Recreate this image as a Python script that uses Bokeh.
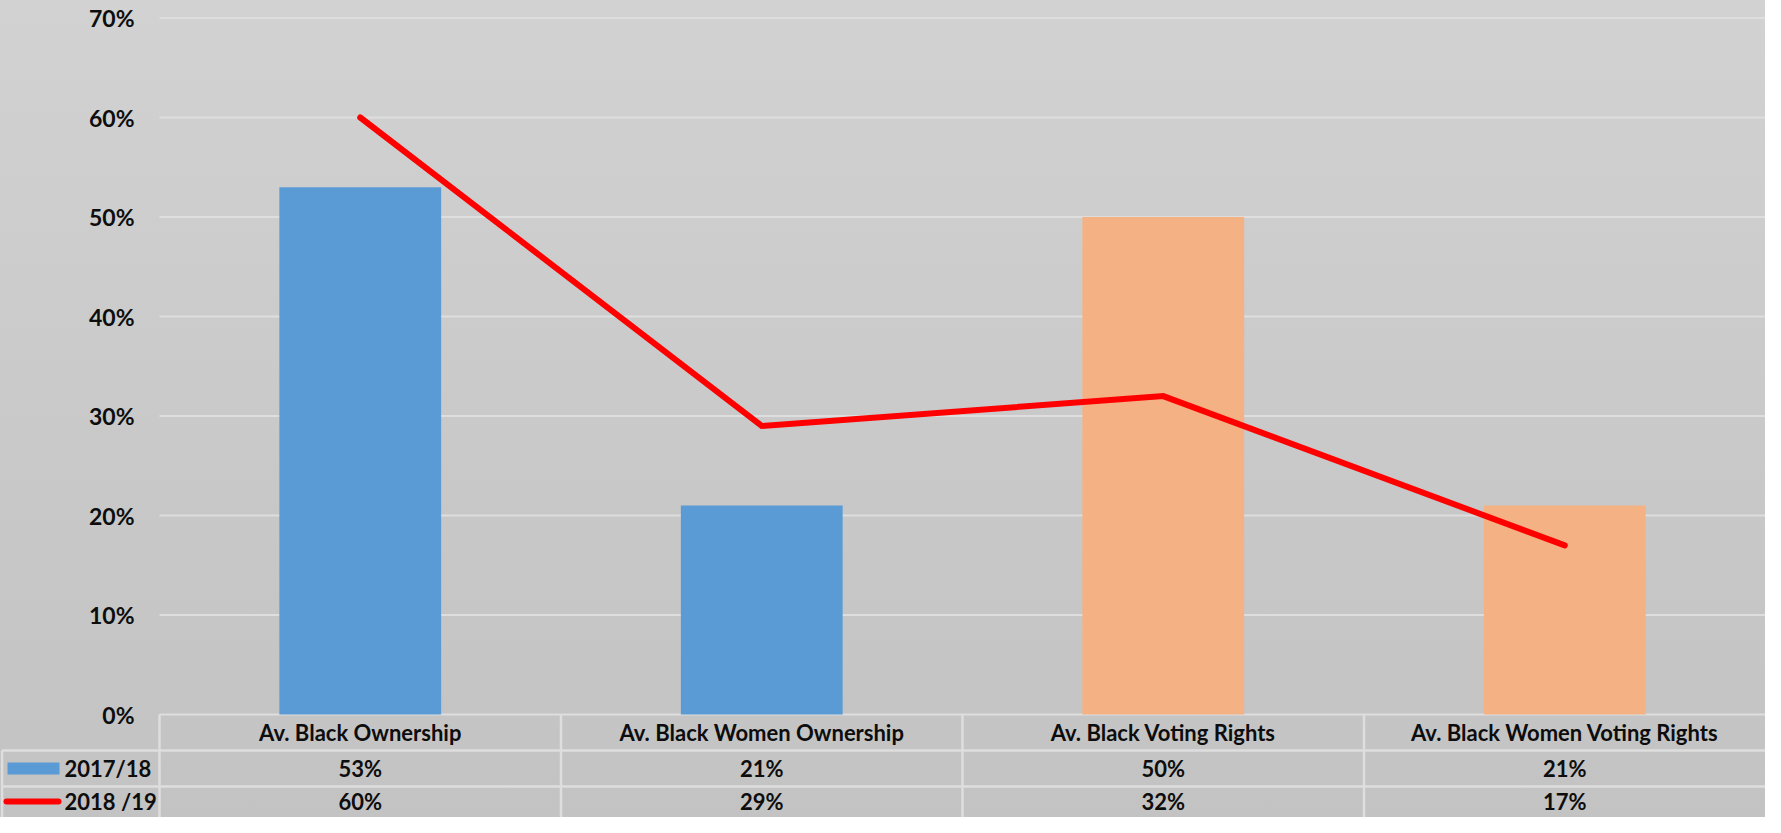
from bokeh.plotting import figure
from bokeh.models import Range1d
from bokeh.embed import file_html
from bokeh.resources import INLINE
from bokeh.core.properties import value

# ---------------- data ----------------
categories = ["Av. Black Ownership", "Av. Black Women Ownership",
              "Av. Black Voting Rights", "Av. Black Women Voting Rights"]
series_names = ["2017/18", "2018 /19"]
values_2017_18 = [53, 21, 50, 21]
values_2018_19 = [60, 29, 32, 17]
bar_colors = ["#5B9BD5", "#5B9BD5", "#F4B183", "#F4B183"]
y_ticks = [0, 10, 20, 30, 40, 50, 60, 70]
y_tick_labels = ["0%", "10%", "20%", "30%", "40%", "50%", "60%", "70%"]

# ---------------- layout helpers ----------------
W, H = 1765, 817          # page offset of 8px on each side
COL_PX = 401.5            # pixels per category column
Y_PX = 9.95               # pixels per percentage point
ORIGIN_X = 167            # page x of the plot area's left edge
ORIGIN_Y = 722            # page y of the 0% baseline


def ux(px):
    return (px - ORIGIN_X) / COL_PX


def uy(py):
    return (ORIGIN_Y - py) / Y_PX


x0, x1 = ux(8), ux(8 + W)
y0, y1 = uy(8 + H), uy(8)

FONT = value("Lato")
TXT = "#0d0d0d"
FS = "22px"
LINE_C = "#dedede"

p = figure(width=W, height=H, output_backend="svg", toolbar_location=None,
           x_range=Range1d(x0, x1), y_range=Range1d(y0, y1),
           x_axis_type=None, y_axis_type=None, min_border=0,
           outline_line_color=None,
           background_fill_color=None, border_fill_color=None,
           styles={"background": "linear-gradient(to bottom, #d2d2d2 0%, #c8c8c8 60%, #c3c3c3 100%)"})
p.grid.visible = False

n = len(categories)
centers = [i + 0.5 for i in range(n)]

# gridlines (from tick values)
p.segment(x0=[0] * len(y_ticks), x1=[n] * len(y_ticks), y0=y_ticks, y1=y_ticks,
          line_color=LINE_C, line_width=2)

# y tick labels
p.text(x=[ux(142)] * len(y_ticks), y=y_ticks, text=y_tick_labels,
       text_font=FONT, text_font_style="bold", text_font_size="23px",
       text_color=TXT, text_align="right", text_baseline="middle")

# bars
p.vbar(x=centers, width=0.403, bottom=0, top=values_2017_18,
       fill_color=bar_colors, line_color=None)

# line
p.line(x=centers, y=values_2018_19, line_color="#FF0000", line_width=6,
       line_cap="round", line_join="miter")

# ---------------- data table ----------------
row1_bot = uy(758)
row2_bot = uy(794)
row_centers = [uy(740), uy(776), uy(809)]
left_edge = ux(9.5)

# horizontal table lines
p.segment(x0=[left_edge, left_edge], x1=[n, n], y0=[row1_bot, row2_bot],
          y1=[row1_bot, row2_bot], line_color=LINE_C, line_width=2.5)
# vertical table lines
p.segment(x0=list(range(n)), x1=list(range(n)), y0=[0] * n, y1=[y0] * n,
          line_color=LINE_C, line_width=2.5)
p.segment(x0=[left_edge], x1=[left_edge], y0=[row1_bot], y1=[y0],
          line_color=LINE_C, line_width=2.5)

# category row
p.text(x=centers, y=[row_centers[0]] * n, text=categories,
       text_font=FONT, text_font_style="bold", text_font_size=FS,
       text_color=TXT, text_align="center", text_baseline="middle")
# value rows
p.text(x=centers, y=[row_centers[1]] * n, text=[f"{v}%" for v in values_2017_18],
       text_font=FONT, text_font_style="bold", text_font_size=FS,
       text_color=TXT, text_align="center", text_baseline="middle")
p.text(x=centers, y=[row_centers[2]] * n, text=[f"{v}%" for v in values_2018_19],
       text_font=FONT, text_font_style="bold", text_font_size=FS,
       text_color=TXT, text_align="center", text_baseline="middle")

# legend keys
p.quad(left=[ux(15)], right=[ux(67)], top=[uy(770)], bottom=[uy(782)],
       fill_color=bar_colors[0], line_color=None)
p.segment(x0=[ux(14)], x1=[ux(66)], y0=[row_centers[2]], y1=[row_centers[2]],
          line_color="#FF0000", line_width=6, line_cap="round")
p.text(x=[ux(72)] * 2, y=row_centers[1:], text=series_names,
       text_font=FONT, text_font_style="bold", text_font_size=FS,
       text_color=TXT, text_align="left", text_baseline="middle")

open("out.html", "w").write(file_html(p, INLINE))
